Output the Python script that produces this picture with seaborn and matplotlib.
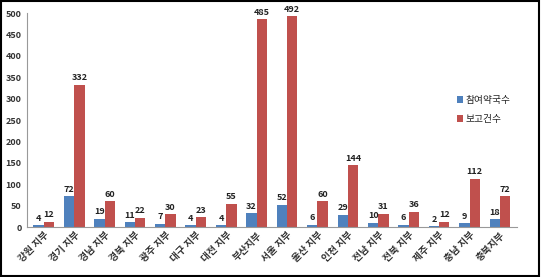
import pandas as pd
import matplotlib.pyplot as plt
import seaborn as sns

sns.set_theme(style="white")
plt.rcParams['font.family'] = ['Noto Sans CJK KR', 'DejaVu Sans']

regions = ['강원 지부', '경기 지부', '경남 지부', '경북 지부', '광주 지부', '대구 지부',
           '대전 지부', '부산지부', '서울 지부', '울산 지부', '인천 지부', '전남 지부',
           '전북 지부', '제주 지부', '충남 지부', '충북지부']
pharmacies = [4, 72, 19, 11, 7, 4, 4, 32, 52, 6, 29, 10, 6, 2, 9, 18]
reports = [12, 332, 60, 22, 30, 23, 55, 485, 492, 60, 144, 31, 36, 12, 112, 72]
series_names = ['참여약국수', '보고건수']

df = pd.DataFrame({
    'region': regions * 2,
    'value': pharmacies + reports,
    'series': [series_names[0]] * len(regions) + [series_names[1]] * len(regions),
})

fig = plt.figure(figsize=(5.41, 2.77), dpi=100)
ax = fig.add_axes([0.05, 0.18, 0.905, 0.773])

sns.barplot(data=df, x='region', y='value', hue='series',
            palette=['#4F81BD', '#C0504D'], saturation=1, width=0.68, ax=ax,
            edgecolor='none', legend=True)

for cont in ax.containers:
    ax.bar_label(cont, fontsize=6.5, padding=2, fontweight='bold', color='#222222')

ax.set_ylim(0, 500)
ax.set_yticks(range(0, 501, 50))
ax.set_xlim(-0.55, len(regions) - 0.45)
ax.set_xlabel('')
ax.set_ylabel('')
ax.tick_params(axis='y', labelsize=6.5, length=2, pad=2)
ax.tick_params(axis='x', labelsize=7, length=0, pad=2)
plt.setp(ax.get_xticklabels(), rotation=45, ha='right', rotation_mode='anchor',
         fontweight='bold', color='#333333')
plt.setp(ax.get_yticklabels(), fontweight='bold', color='#333333')

for s in ['top', 'right']:
    ax.spines[s].set_visible(False)
for s in ['left', 'bottom']:
    ax.spines[s].set_color('#999999')
    ax.spines[s].set_linewidth(0.8)

ax.legend(loc='center left', bbox_to_anchor=(0.86, 0.55), frameon=False,
          fontsize=7, handlelength=0.6, handleheight=0.8, handletextpad=0.3,
          labelspacing=0.9)

fig.patches.append(plt.Rectangle((0.002, 0.003), 0.995, 0.994, transform=fig.transFigure,
                                 fill=False, edgecolor='black', linewidth=1.5))

fig.savefig('out.png', dpi=100)
